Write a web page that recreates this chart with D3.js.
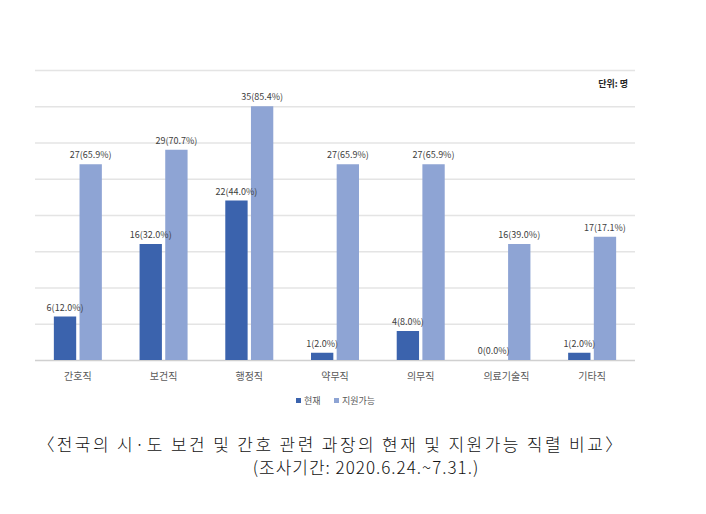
<!DOCTYPE html>
<html>
<head>
<meta charset="utf-8">
<script src="https://cdn.jsdelivr.net/npm/d3@7"></script>
<style>
  body { margin: 0; background: #fff; }
  svg { display: block; }
</style>
</head>
<body>
<div class="chart"></div>
<script>
// 직렬 (categories)
var categories = ["간호직", "보건직", "행정직", "약무직", "의무직", "의료기술직", "기타직"]
var seriesNames = ["현재", "지원가능"]
var current = [6, 16, 22, 1, 4, 0, 1]
var currentPct = ["12.0", "32.0", "44.0", "2.0", "8.0", "0.0", "2.0"]
var available = [27, 29, 35, 27, 27, 16, 17]
var availablePct = ["65.9", "70.7", "85.4", "65.9", "65.9", "39.0", "17.1"]
var yTicks = [0, 5, 10, 15, 20, 25, 30, 35, 40]

var width = 706, height = 514
var colors = ["#3b63ad", "#8ea4d4"]

var svg = d3.select(".chart").append("svg")
    .attr("width", width)
    .attr("height", height)

var x = d3.scaleBand().domain(categories).range([35, 635])
var x1 = d3.scaleBand().domain(seriesNames).range([0, 48]).paddingInner(0.13)
var y = d3.scaleLinear().domain([0, 40]).range([360, 70])

// 눈금선
svg.append("g").selectAll("line")
  .data(yTicks)
  .enter().append("line")
  .attr("x1", 35).attr("x2", 635)
  .attr("y1", function(d) { return y(d) + 0.5 })
  .attr("y2", function(d) { return y(d) + 0.5 })
  .attr("stroke", function(d) { return d == 0 ? "#d0d0d0" : "#e4e4e4" })
  .attr("stroke-width", 1.3)

var rows = categories.map(function(c, i) {
  return [
    {cat: c, s: "현재", v: current[i], p: currentPct[i], k: 0},
    {cat: c, s: "지원가능", v: available[i], p: availablePct[i], k: 1}
  ]
})

var groups = svg.append("g").selectAll("g")
  .data(rows)
  .enter().append("g")
  .attr("transform", function(d) { return "translate(" + (x(d[0].cat) + x.bandwidth() / 2 - 24) + ",0)" })

groups.selectAll("rect")
  .data(function(d) { return d })
  .enter().append("rect")
  .attr("x", function(d) { return x1(d.s) })
  .attr("width", x1.bandwidth())
  .attr("y", function(d) { return y(d.v) })
  .attr("height", function(d) { return y(0) - y(d.v) })
  .attr("fill", function(d) { return colors[d.k] })

groups.selectAll("text")
  .data(function(d) { return d })
  .enter().append("text")
  .attr("x", function(d) { return x1(d.s) + x1.bandwidth() / 2 })
  .attr("y", function(d) { return y(d.v) - 6 })
  .attr("text-anchor", "middle")
  .attr("font-family", "'Noto Sans CJK KR', 'Noto Sans', sans-serif")
  .attr("font-size", 9)
  .attr("fill", "#404040")
  .text(function(d) { return d.v + "(" + d.p + "%)" })

// x축 레이블
svg.append("g").selectAll("text")
  .data(categories)
  .enter().append("text")
  .attr("x", function(d) { return x(d) + x.bandwidth() / 2 })
  .attr("y", 380)
  .attr("text-anchor", "middle")
  .attr("font-family", "'Noto Sans CJK KR', sans-serif")
  .attr("font-size", 10)
  .attr("fill", "#595959")
  .text(function(d) { return d })

// 단위
svg.append("text")
  .attr("x", 628).attr("y", 87)
  .attr("text-anchor", "end")
  .attr("font-family", "'Noto Sans CJK KR', sans-serif")
  .attr("font-size", 9)
  .attr("font-weight", 700)
  .attr("fill", "#262626")
  .text("단위: 명")

// 범례
var legend = svg.append("g").selectAll("g")
  .data(seriesNames)
  .enter().append("g")
  .attr("transform", function(d, i) { return "translate(" + (296 + i * 38) + ",398)" })
legend.append("rect")
  .attr("width", 5).attr("height", 5)
  .attr("fill", function(d, i) { return colors[i] })
legend.append("text")
  .attr("x", 8).attr("y", 5.5)
  .attr("font-family", "'Noto Sans CJK KR', sans-serif")
  .attr("font-size", 9)
  .attr("fill", "#595959")
  .text(function(d) { return d })

// 캡션
svg.append("text")
  .attr("x", 331).attr("y", 451)
  .attr("text-anchor", "middle")
  .attr("font-family", "'Noto Sans CJK KR', sans-serif")
  .attr("font-size", 17)
  .attr("font-weight", 300)
  .attr("letter-spacing", 2.4)
  .attr("fill", "#111")
  .text("〈전국의 시·도 보건 및 간호 관련 과장의 현재 및 지원가능 직렬 비교〉")
svg.append("text")
  .attr("x", 366).attr("y", 474)
  .attr("text-anchor", "middle")
  .attr("font-family", "'Noto Sans CJK KR', sans-serif")
  .attr("font-size", 17)
  .attr("font-weight", 300)
  .attr("letter-spacing", 1)
  .attr("fill", "#111")
  .text("(조사기간:  2020.6.24.~7.31.)")
</script>
</body>
</html>
